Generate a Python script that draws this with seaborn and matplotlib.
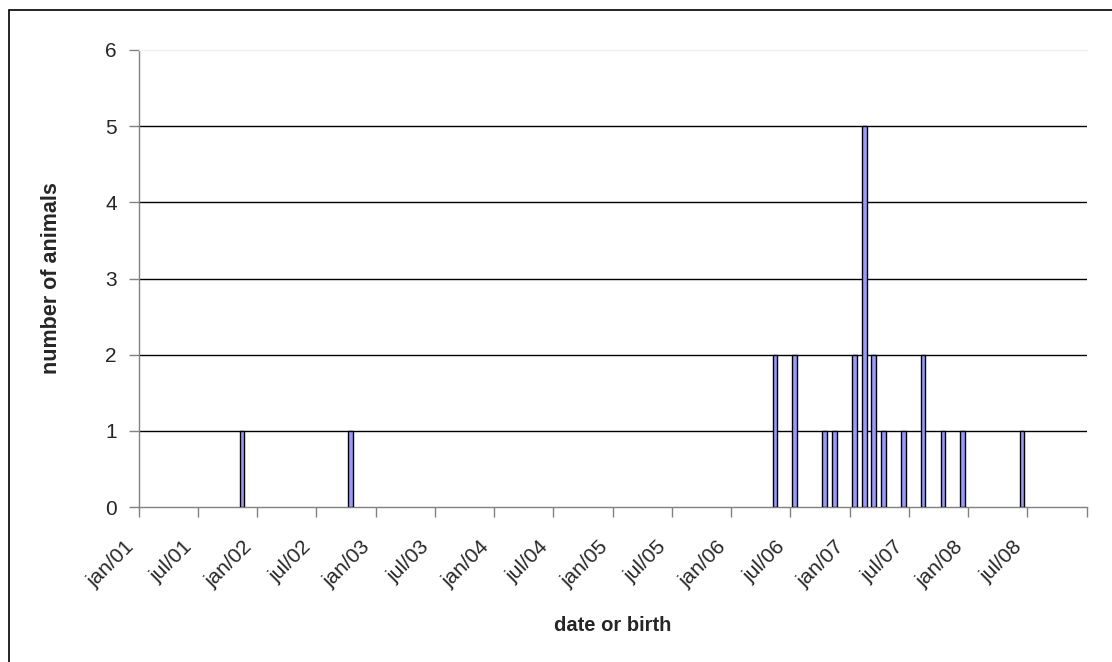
import numpy as np
import pandas as pd
import matplotlib
matplotlib.use("Agg")
import matplotlib.pyplot as plt
import matplotlib.dates as mdates
import matplotlib.transforms as mtransforms
from matplotlib.patches import Rectangle
import seaborn as sns

# birth months of the animals and how many were born in each
birth_months = ['2001-11', '2002-10', '2006-05', '2006-07', '2006-10', '2006-11',
                '2007-01', '2007-02', '2007-03', '2007-04', '2007-06', '2007-08',
                '2007-10', '2007-12', '2008-06']
n_animals = [1, 1, 2, 2, 1, 1, 2, 5, 2, 1, 1, 2, 1, 1, 1]

# half-year tick marks on the date axis
tick_dates = ['2001-01', '2001-07', '2002-01', '2002-07', '2003-01', '2003-07',
              '2004-01', '2004-07', '2005-01', '2005-07', '2006-01', '2006-07',
              '2007-01', '2007-07', '2008-01', '2008-07', '2009-01']
tick_labels = ['jan/01', 'jul/01', 'jan/02', 'jul/02', 'jan/03', 'jul/03',
               'jan/04', 'jul/04', 'jan/05', 'jul/05', 'jan/06', 'jul/06',
               'jan/07', 'jul/07', 'jan/08', 'jul/08', '']

sns.set_style("white")
plt.rcParams['font.family'] = ['Liberation Sans', 'DejaVu Sans']

# bars sit in the middle of their month
dates = pd.to_datetime(birth_months) + pd.Timedelta(days=14)
df = pd.DataFrame({'date': mdates.date2num(dates), 'count': n_animals})

fig = plt.figure(figsize=(11.12, 6.62), dpi=100)
ax = fig.add_axes([0.125, 0.2341, 0.8525, 0.6904])

sns.barplot(data=df, x='date', y='count', native_scale=True, width=0.5,
            color='#9999FF', saturation=1, edgecolor='black', linewidth=1,
            errorbar=None, ax=ax, zorder=3)

ticks = mdates.date2num(pd.to_datetime(tick_dates))
ax.set_xlim(ticks[0], ticks[-1])
ax.set_xticks(ticks)
ax.set_xticklabels(tick_labels, rotation=45, ha='right', rotation_mode='anchor')
ax.set_ylim(0, 6)
ax.set_yticks(range(7))

ax.grid(False)
for v in range(1, 6):
    ax.axhline(v, color='black', lw=1, zorder=1)

ax.tick_params(axis='both', labelsize=15, direction='out', length=7, width=1,
               color='#808080', bottom=True, left=True)
ax.tick_params(axis='y', pad=9)
ax.tick_params(axis='x', pad=15)

# Excel puts the rotated labels a bit left of their tick
shift = mtransforms.ScaledTranslation(-0.15, 0, fig.dpi_scale_trans)
for lab in ax.get_xticklabels():
    lab.set_transform(lab.get_transform() + shift)

ax.spines['left'].set_color('#808080')
ax.spines['bottom'].set_color('#808080')
ax.spines['top'].set_color('#eeeeee')
ax.spines['right'].set_visible(False)
for s in ax.spines.values():
    s.set_linewidth(1)

ax.set_xlabel('date or birth', fontsize=14.5, fontweight='bold', labelpad=18)
ax.set_ylabel('number of animals', fontsize=15.5, fontweight='bold', labelpad=31)

# outer chart border, cut by the picture on the right and bottom
fig.patches.append(Rectangle((9 / 1112, -0.1), 2, 0.1 + 1 - 10 / 662,
                             transform=fig.transFigure, fill=False,
                             edgecolor='black', lw=1.2))

plt.savefig('out.png', dpi=100)
